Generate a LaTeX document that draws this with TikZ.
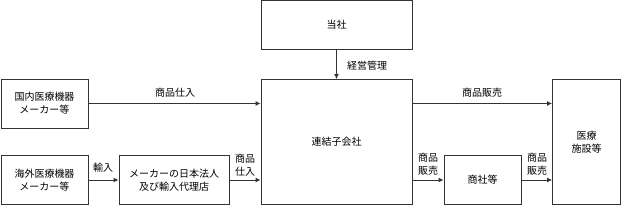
\documentclass[tikz,border=0pt]{standalone}
\usepackage{fontspec}
\newfontfamily\jpfont{Noto Sans CJK JP}
\usetikzlibrary{positioning,arrows.meta}
\tikzset{
  entity/.style={draw=black!80,line width=0.9pt,inner sep=0pt,align=center,
                 font=\jpfont\fontsize{10}{13}\selectfont},
  flow/.style={draw=black!80,line width=0.9pt,-{Latex[length=5pt,width=5pt]}},
  flowlabel/.style={inner sep=1pt,align=center,font=\jpfont\fontsize{10}{13}\selectfont}
}

\begin{document}
\begin{tikzpicture}[x=1pt,y=-1pt]
  \useasboundingbox (0,0) rectangle (621,205);
  % companies
  \node[entity,minimum width=151pt,minimum height=49pt] (tosha) at (336.5,25) {当社};
  \node[entity,minimum width=151pt,minimum height=125pt] (renketsu) at (336.5,142) {連結子会社};
  \node[entity,minimum width=87pt,minimum height=49pt] (kokunai) at (44.5,103.5) {国内医療機器\\メーカー等};
  \node[entity,minimum width=87pt,minimum height=49pt] (kaigai) at (44.5,180) {海外医療機器\\メーカー等};
  \node[entity,minimum width=110pt,minimum height=49pt] (dairiten) at (174,180) {メーカーの日本法人\\及び輸入代理店};
  \node[entity,minimum width=77pt,minimum height=49pt] (shosha) at (482.5,180) {商社等};
  \node[entity,minimum width=68pt,minimum height=125pt] (iryo) at (586.5,142) {医療\\施設等};

  % flows
  \draw[flow] (tosha) -- (renketsu);
  \draw[flow] (kokunai.east) -- (kokunai.east -| renketsu.west);
  \draw[flow] (kaigai) -- (dairiten);
  \draw[flow] (dairiten.east) -- (dairiten.east -| renketsu.west);
  \draw[flow] (renketsu.east |- kokunai.east) -- (iryo.west |- kokunai.east);
  \draw[flow] (renketsu.east |- shosha.west) -- (shosha.west);
  \draw[flow] (shosha) -- (iryo.west |- shosha.east);

  % labels
  \node[flowlabel] (l1) at (175,93) {商品仕入};
  \node[flowlabel] (l2) at (367,66) {経営管理};
  \node[flowlabel] (l3) at (482,93) {商品販売};
  \node[flowlabel] (l4) at (103,168) {輸入};
  \node[flowlabel] (l5) at (245,165) {商品\\仕入};
  \node[flowlabel] (l6) at (428,164) {商品\\販売};
  \node[flowlabel] (l7) at (537,164) {商品\\販売};
\end{tikzpicture}
\end{document}
